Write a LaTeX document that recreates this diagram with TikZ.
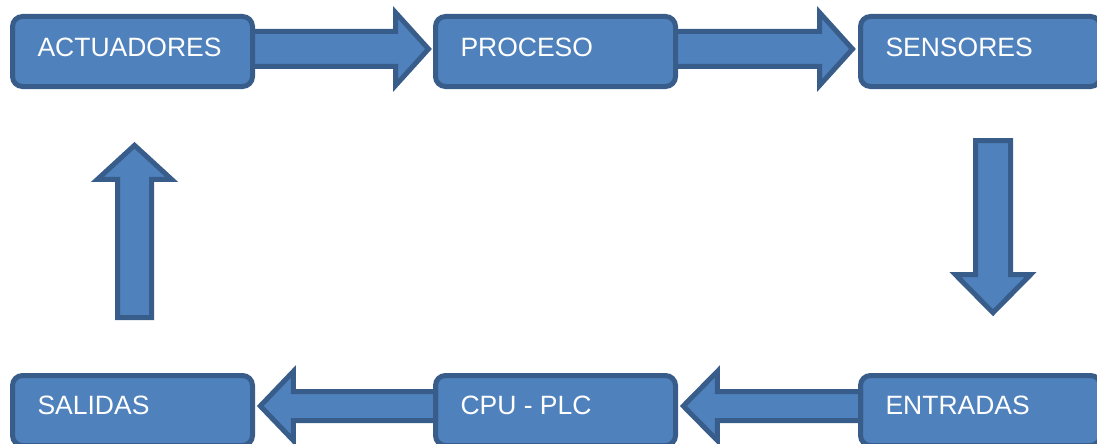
\documentclass[tikz,border=0pt]{standalone}
\usepackage{fontspec}
\setmainfont{Liberation Sans}
\usetikzlibrary{calc}
\definecolor{boxfill}{HTML}{4F81BD}
\definecolor{boxline}{HTML}{385D8A}
\begin{document}
\begin{tikzpicture}[x=1pt,y=-1pt,
  box/.style={draw=boxline, fill=boxfill, line width=5pt, rounded corners=10pt,
    minimum width=240pt, minimum height=70pt, outer sep=0pt, inner sep=0pt},
  lbl/.style={text=white, font=\fontsize{26.5}{30}\selectfont, anchor=base west, inner sep=0pt},
  blk/.style={draw=boxline, fill=boxfill, line width=5pt, line join=miter}]
\useasboundingbox (0,0) rectangle (1097,444);
\begin{scope}
\clip (0,0) rectangle (1097,444);
% boxes
\node[box] (act) at (132.5,51.5) {};
\node[box] (pro) at (555.5,51.5) {};
\node[box] (sen) at (980.5,51.5) {};
\node[box] (sal) at (132.5,410.5) {};
\node[box] (cpu) at (555.5,410.5) {};
\node[box] (ent) at (980.5,410.5) {};
% labels
\node[lbl] (tact) at ($(act.west)+(24.8,5.2)$) {ACTUADORES};
\node[lbl] (tpro) at ($(pro.west)+(24.8,5.2)$) {PROCESO};
\node[lbl] (tsen) at ($(sen.west)+(24.8,5.2)$) {SENSORES};
\node[lbl] (tsal) at ($(sal.west)+(24.8,3.5)$) {SALIDAS};
\node[lbl] (tcpu) at ($(cpu.west)+(24.8,3.5)$) {CPU - PLC};
\node[lbl] (tent) at ($(ent.west)+(24.8,3.5)$) {ENTRADAS};
% arrow ACTUADORES -> PROCESO
\coordinate (a1s) at ($(act.east)+(0,-2.5)$);
\coordinate (a1t) at ($(pro.west)+(-7,-2.5)$);
\draw[blk] ($(a1s)+(0,-17.5)$) -- ($(a1t)+(-33,-17.5)$) -- ($(a1t)+(-33,-36.5)$) -- (a1t)
  -- ($(a1t)+(-33,36.5)$) -- ($(a1t)+(-33,17.5)$) -- ($(a1s)+(0,17.5)$) -- cycle;
% arrow PROCESO -> SENSORES
\coordinate (a2s) at ($(pro.east)+(0,-2.5)$);
\coordinate (a2t) at ($(sen.west)+(-8,-2.5)$);
\draw[blk] ($(a2s)+(0,-17.5)$) -- ($(a2t)+(-33,-17.5)$) -- ($(a2t)+(-33,-36.5)$) -- (a2t)
  -- ($(a2t)+(-33,36.5)$) -- ($(a2t)+(-33,17.5)$) -- ($(a2s)+(0,17.5)$) -- cycle;
% arrow SENSORES -> ENTRADAS
\coordinate (a3s) at ($(sen.south)+(12.5,54)$);
\coordinate (a3t) at ($(ent.north)+(12.5,-62.8)$);
\draw[blk] ($(a3s)+(-17.5,0)$) -- ($(a3t)+(-17.5,-38)$) -- ($(a3t)+(-37.5,-38)$) -- (a3t)
  -- ($(a3t)+(37.5,-38)$) -- ($(a3t)+(17.5,-38)$) -- ($(a3s)+(17.5,0)$) -- cycle;
% arrow ENTRADAS -> CPU - PLC
\coordinate (a4s) at ($(ent.west)+(0,-4.5)$);
\coordinate (a4t) at ($(cpu.east)+(7.8,-4.5)$);
\draw[blk] ($(a4s)+(0,-14.5)$) -- ($(a4t)+(34,-14.5)$) -- ($(a4t)+(34,-34.5)$) -- (a4t)
  -- ($(a4t)+(34,34.5)$) -- ($(a4t)+(34,14.5)$) -- ($(a4s)+(0,14.5)$) -- cycle;
% arrow CPU - PLC -> SALIDAS
\coordinate (a5s) at ($(cpu.west)+(0,-4.5)$);
\coordinate (a5t) at ($(sal.east)+(7.8,-4.5)$);
\draw[blk] ($(a5s)+(0,-14.5)$) -- ($(a5t)+(33,-14.5)$) -- ($(a5t)+(33,-34.5)$) -- (a5t)
  -- ($(a5t)+(33,34.5)$) -- ($(a5t)+(33,14.5)$) -- ($(a5s)+(0,14.5)$) -- cycle;
% arrow SALIDAS -> ACTUADORES
\coordinate (a6s) at ($(sal.north)+(2,-58)$);
\coordinate (a6t) at ($(act.south)+(2,58.8)$);
\draw[blk] ($(a6s)+(-17,0)$) -- ($(a6t)+(-17,34)$) -- ($(a6t)+(-37,34)$) -- (a6t)
  -- ($(a6t)+(37,34)$) -- ($(a6t)+(17,34)$) -- ($(a6s)+(17,0)$) -- cycle;
\end{scope}
\end{tikzpicture}
\end{document}
